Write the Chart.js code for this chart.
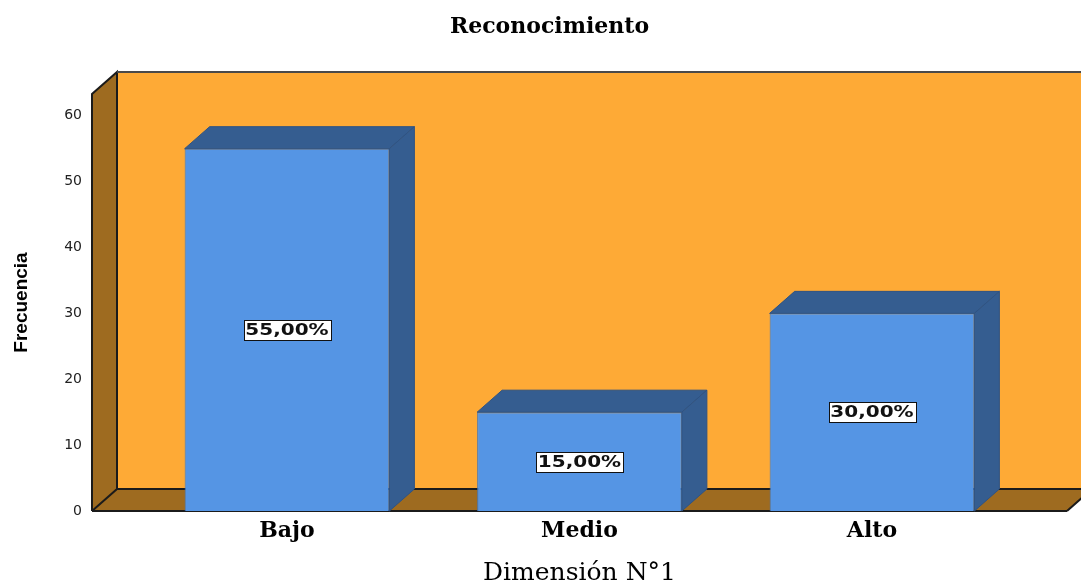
<!DOCTYPE html>
<html>
<head>
<meta charset="utf-8">
<title>Reconocimiento</title>
<script src="https://cdn.jsdelivr.net/npm/chart.js@4.4.1/dist/chart.umd.min.js"></script>
<style>
  html, body { margin: 0; padding: 0; background: #ffffff; }
  #wrap { position: relative; width: 1081px; height: 583px; }
</style>
</head>
<body>
<div id="wrap"><canvas id="grafica"></canvas></div>
<script>
// Datos
const categorias = ["Bajo", "Medio", "Alto"];
const frecuencias = [55, 15, 30];
const yTicks = [0, 10, 20, 30, 40, 50, 60];

// Colores estilo SPSS
const C_FRENTE = "#5595E4";
const C_OSCURO = "#355D90";
const C_PARED  = "#FEAA36";
const C_SUELO  = "#9E6B20";
const DEPTH = { dx: 25, dy: -22 };

const total = frecuencias.reduce((a, b) => a + b, 0);
const porcentajes = frecuencias.map(v => (v / total * 100).toFixed(2).replace(".", ",") + "%");

function poly(ctx, pts, fill, stroke, lw) {
  ctx.beginPath();
  ctx.moveTo(pts[0][0], pts[0][1]);
  for (let i = 1; i < pts.length; i++) ctx.lineTo(pts[i][0], pts[i][1]);
  ctx.closePath();
  if (fill) { ctx.fillStyle = fill; ctx.fill(); }
  if (stroke) { ctx.strokeStyle = stroke; ctx.lineWidth = lw || 1; ctx.stroke(); }
}

// ── Paredes y suelo 3D ───────────────────────────────────────────────────────
const paredes3d = {
  id: "paredes3d",
  beforeDatasetsDraw(chart) {
    const { ctx, chartArea: a } = chart;
    const { dx, dy } = DEPTH;
    ctx.save();
    // pared de fondo
    poly(ctx, [[a.left + dx, a.top + dy], [a.right + dx + 40, a.top + dy],
               [a.right + dx + 40, a.bottom + dy], [a.left + dx, a.bottom + dy]], C_PARED);
    // suelo
    poly(ctx, [[a.left, a.bottom], [a.left + dx, a.bottom + dy],
               [a.right + dx, a.bottom + dy], [a.right, a.bottom]], C_SUELO);
    // pared izquierda
    poly(ctx, [[a.left, a.top], [a.left + dx, a.top + dy],
               [a.left + dx, a.bottom + dy], [a.left, a.bottom]], C_SUELO);

    ctx.lineWidth = 2;
    ctx.strokeStyle = "#1b1b1b";
    ctx.beginPath();
    // contorno pared izquierda
    ctx.moveTo(a.left, a.bottom); ctx.lineTo(a.left, a.top);
    ctx.lineTo(a.left + dx, a.top + dy); ctx.lineTo(a.left + dx, a.bottom + dy);
    ctx.lineTo(a.left, a.bottom);
    // borde trasero del suelo
    ctx.moveTo(a.left + dx, a.bottom + dy); ctx.lineTo(a.right + dx, a.bottom + dy);
    ctx.lineTo(a.right, a.bottom);
    // eje x frontal
    ctx.moveTo(a.left, a.bottom); ctx.lineTo(a.right, a.bottom);
    ctx.stroke();
    // borde superior de la pared de fondo
    ctx.strokeStyle = "#4a4a4a";
    ctx.beginPath();
    ctx.moveTo(a.left + dx, a.top + dy); ctx.lineTo(chart.width + 5, a.top + dy);
    ctx.stroke();
    ctx.restore();
  },
  afterDatasetsDraw(chart) {
    const { ctx } = chart;
    const { dx, dy } = DEPTH;
    const meta = chart.getDatasetMeta(0);
    ctx.save();
    meta.data.forEach((bar, i) => {
      const { x, y, base, width } = bar.getProps(["x", "y", "base", "width"], true);
      const l = x - width / 2, r = x + width / 2;
      // cara superior y lateral
      poly(ctx, [[l, y], [l + dx, y + dy], [r + dx, y + dy], [r, y]], C_OSCURO, "#2f5383", 1);
      poly(ctx, [[r, y], [r + dx, y + dy], [r + dx, base + dy], [r, base]], C_OSCURO, "#2f5383", 1);

      // etiqueta de porcentaje
      const cy = (y + base) / 2;
      const txt = porcentajes[i];
      const sx = 1.25;
      ctx.font = "bold 16px 'DejaVu Sans'";
      const tw = ctx.measureText(txt).width * sx;
      const bw = Math.round(tw + 4), bh = 20;
      const bx = Math.round(x - bw / 2) + 0.5, by = Math.round(cy - bh / 2) + 0.5;
      ctx.fillStyle = "#ffffff";
      ctx.fillRect(bx, by, bw, bh);
      ctx.strokeStyle = "#111111";
      ctx.lineWidth = 1;
      ctx.strokeRect(bx, by, bw, bh);
      ctx.save();
      ctx.translate(x, cy + 1);
      ctx.scale(sx, 1);
      ctx.fillStyle = "#111111";
      ctx.textAlign = "center";
      ctx.textBaseline = "middle";
      ctx.fillText(txt, 0, 0);
      ctx.restore();
    });
    ctx.restore();
  }
};

new Chart(document.getElementById("grafica"), {
  type: "bar",
  data: {
    datasets: [{
      data: frecuencias.map((v, i) => ({ x: i, y: v })),
      backgroundColor: C_FRENTE,
      borderColor: "#4677B8",
      borderWidth: 1,
      categoryPercentage: 1,
      barPercentage: 0.70,
    }],
  },
  options: {
    responsive: true,
    maintainAspectRatio: false,
    animation: false,
    layout: { padding: { left: 32, right: 14, top: 0, bottom: 0 } },
    plugins: {
      legend:  { display: false },
      tooltip: { enabled: false },
      title: {
        display: true,
        text: "Reconocimiento",
        color: "#000",
        font: { family: "'DejaVu Serif'", size: 22, weight: "bold", lineHeight: 1 },
        padding: { top: 16, bottom: 56 },
      },
    },
    scales: {
      x: {
        type: "linear",
        offset: false,
        bounds: "data",
        min: -2 / 3,
        max: 8 / 3,
        afterBuildTicks: s => { s.ticks = categorias.map((c, i) => ({ value: i })); },
        afterFit: s => { s.height = 72; },
        grid: { display: false, drawTicks: false, offset: false },
        border: { display: false },
        ticks: {
          autoSkip: false,
          maxRotation: 0,
          padding: 7,
          color: "#000",
          font: { family: "'DejaVu Serif'", size: 22, weight: "bold" },
          callback: v => categorias[v] ?? "",
        },
        title: {
          display: true,
          text: "Dimensión N°1",
          color: "#000",
          font: { family: "'DejaVu Serif'", size: 25, lineHeight: 1 },
          padding: { top: 0, bottom: -3 },
        },
      },
      y: {
        min: 0,
        max: 63.3,
        afterFit: s => { s.width = 60; },
        afterBuildTicks: s => { s.ticks = yTicks.map(v => ({ value: v })); },
        grid: { display: false, drawTicks: false },
        border: { display: false },
        ticks: {
          padding: 10,
          color: "#222",
          font: { family: "'DejaVu Sans'", size: 14 },
        },
        title: {
          display: true,
          text: "Frecuencia",
          color: "#000",
          font: { family: "'Liberation Sans'", size: 19, weight: "bold", lineHeight: 1 },
          padding: { top: -19.5, bottom: 0 },
        },
      },
    },
  },
  plugins: [paredes3d],
});
</script>
</body>
</html>
